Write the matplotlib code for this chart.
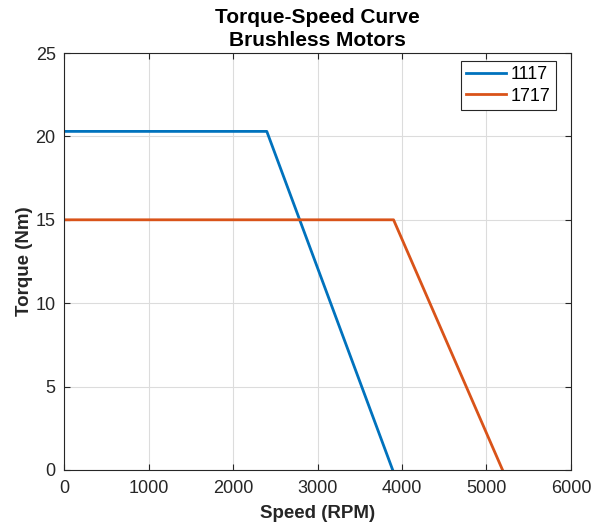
import numpy as np
import matplotlib.pyplot as plt

plt.rcParams['font.family'] = ['Liberation Sans', 'DejaVu Sans']

# Motor data (speed in RPM, torque in Nm)
speed_1117 = [0, 2400, 3890]
torque_1117 = [20.3, 20.3, 0]
speed_1717 = [0, 3900, 5190]
torque_1717 = [15, 15, 0]

fig = plt.figure(figsize=(5.93, 5.26), dpi=100)
ax = fig.add_axes([64 / 593, 56 / 526, 507 / 593, 417 / 526])

ax.plot(speed_1117, torque_1117, color='#0072BD', lw=2, label='1117')
ax.plot(speed_1717, torque_1717, color='#D95319', lw=2, label='1717')

ax.set_xlim(0, 6000)
ax.set_ylim(0, 25)
ax.set_xticks(np.arange(0, 6001, 1000))
ax.set_yticks(np.arange(0, 26, 5))
ax.grid(True, color='#dcdcdc', lw=0.8)
ax.set_axisbelow(True)
ax.tick_params(direction='in', top=True, right=True, labelsize=13, colors='#262626', length=4)
ax.tick_params(axis='x', pad=7)
ax.tick_params(axis='y', pad=6)
for s in ax.spines.values():
    s.set_color('#262626')
    s.set_linewidth(0.8)

ax.set_xlabel('Speed (RPM)', fontsize=13.5, fontweight='bold', color='#262626', labelpad=6)
ax.set_ylabel('Torque (Nm)', fontsize=13.5, fontweight='bold', color='#262626', labelpad=2)
ax.set_title('Torque-Speed Curve\nBrushless Motors', fontsize=15, fontweight='bold',
             linespacing=1.25, pad=5)

leg = ax.legend(loc='upper right', bbox_to_anchor=(0.970, 0.9815), borderaxespad=0,
                fontsize=13, fancybox=False, framealpha=1, edgecolor='#262626',
                handlelength=2.2, handletextpad=0.25, borderpad=0.3, labelspacing=0.25)
leg.get_frame().set_linewidth(0.8)

fig.savefig('out.png', dpi=100)
